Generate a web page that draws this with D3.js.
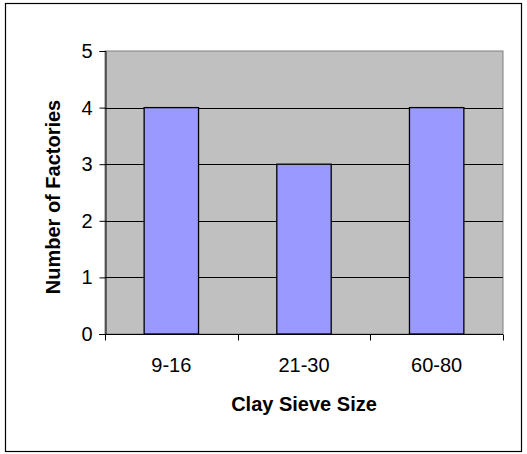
<!DOCTYPE html>
<html><head><meta charset="utf-8">
<script src="https://cdn.jsdelivr.net/npm/d3@7"></script>
<style>body{margin:0;background:#fff}svg{display:block}text{font-family:Arial,"Liberation Sans",sans-serif}</style>
</head><body>
<script>
const categories = ["9-16", "21-30", "60-80"];
const values = [4, 3, 4];
const yTicks = [0, 1, 2, 3, 4, 5];
const xTitle = "Clay Sieve Size";
const yTitle = "Number of Factories";

const W = 527, H = 454;
const m = {left: 105, right: 24, top: 51, bottom: 120};
const svg = d3.select("body").append("svg").attr("width", W).attr("height", H);
svg.append("rect").attr("x", 5.5).attr("y", 3.5).attr("width", 516).attr("height", 448)
  .attr("fill", "#fff").attr("stroke", "#000").attr("stroke-width", 1.2);

const x = d3.scaleBand().domain(categories).range([m.left, W - m.right]);
const y = d3.scaleLinear().domain([0, 5]).range([H - m.bottom, m.top]);

// plot area
svg.append("rect").attr("x", m.left).attr("y", m.top)
  .attr("width", W - m.right - m.left).attr("height", H - m.bottom - m.top)
  .attr("fill", "#C0C0C0").attr("stroke", "#808080").attr("stroke-width", 1);

// gridlines
svg.append("g").selectAll("line").data(yTicks.filter(d => d > 0 && d < 5)).join("line")
  .attr("x1", m.left).attr("x2", W - m.right)
  .attr("y1", d => Math.round(y(d)) + 0.5).attr("y2", d => Math.round(y(d)) + 0.5)
  .attr("stroke", "#000").attr("stroke-width", 1);

// bars
const bw = x.bandwidth() * 0.41;
svg.append("g").selectAll("rect").data(categories).join("rect")
  .attr("x", (d) => x(d) + (x.bandwidth() - bw) / 2)
  .attr("y", (d, i) => y(values[i]))
  .attr("width", bw)
  .attr("height", (d, i) => y(0) - y(values[i]))
  .attr("fill", "#9999FF").attr("stroke", "#000").attr("stroke-width", 1.3);

// y axis
const yAxis = d3.axisLeft(y).tickValues(yTicks).tickSize(6).tickPadding(7).tickFormat(d3.format("d"));
const gy = svg.append("g").attr("transform", `translate(${m.left + 0.5},0)`).call(yAxis);
gy.attr("font-size", null).attr("font-family", null);
gy.selectAll("text").style("font-size", "20px").attr("fill", "#000");
gy.selectAll("line,path").attr("stroke", "#000");

// x axis
const xLin = d3.scaleLinear().domain([0, 3]).range([m.left, W - m.right]);
const gx = svg.append("g").attr("transform", `translate(0,${y(0) + 0.5})`);
gx.append("line").attr("x1", m.left - 6).attr("x2", W - m.right).attr("stroke", "#000");
gx.selectAll("line.t").data([0, 1, 2, 3]).join("line").attr("class", "t")
  .attr("x1", d => Math.round(xLin(d)) + 0.5).attr("x2", d => Math.round(xLin(d)) + 0.5)
  .attr("y1", 0).attr("y2", 6).attr("stroke", "#000");
gx.selectAll("text").data(categories).join("text")
  .attr("x", d => x(d) + x.bandwidth() / 2).attr("y", 37)
  .attr("text-anchor", "middle").style("font-size", "20px").attr("fill", "#000").text(d => d);

// titles
svg.append("text").attr("x", 304).attr("y", 411).attr("text-anchor", "middle")
  .style("font-size", "20px").attr("font-weight", "bold").text(xTitle);
svg.append("text").attr("transform", "translate(60,197) rotate(-90)").attr("text-anchor", "middle")
  .style("font-size", "20px").attr("font-weight", "bold").text(yTitle);
</script>
</body></html>
